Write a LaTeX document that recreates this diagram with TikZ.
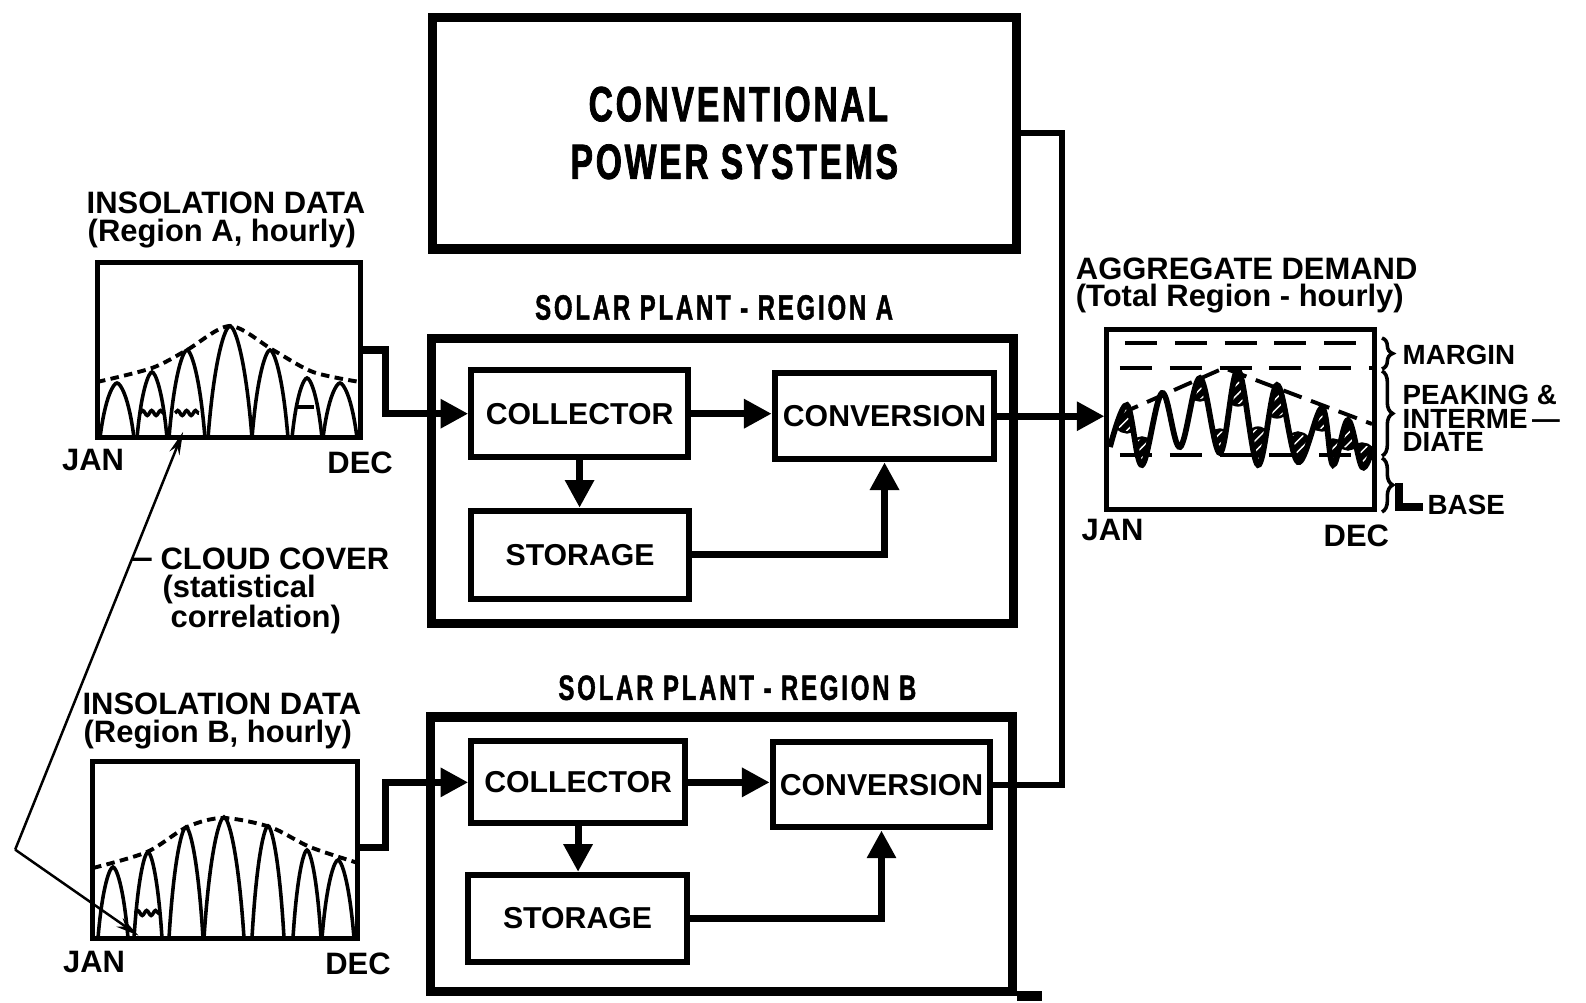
\documentclass[tikz,border=0pt]{standalone}
\usepackage{fontspec}
\setmainfont{Liberation Sans}
\newfontfamily\convfont[FakeStretch=0.68,LetterSpace=5.6,FakeBold=1.5]{Liberation Sans}
\newfontfamily\titlefont[FakeStretch=0.68,LetterSpace=8,FakeBold=1.2]{Liberation Sans}
\usetikzlibrary{arrows.meta,calc,patterns,decorations.pathreplacing,decorations.pathmorphing}

\tikzset{
  lbl/.style={font=\fontsize{8.7}{10}\selectfont\bfseries, inner sep=0pt},
  smalllbl/.style={font=\fontsize{7.8}{9}\selectfont\bfseries, inner sep=0pt, anchor=west},
  bigbox/.style={draw, line width=2.6pt, rectangle, inner sep=0pt},
  innerbox/.style={draw, line width=1.7pt, rectangle, inner sep=0pt, font=\fontsize{8.5}{10}\selectfont\bfseries},
  chartbox/.style={draw, line width=1.4pt, rectangle, inner sep=0pt},
  flow/.style={line width=2pt, -{Triangle[length=7.8pt,width=7.8pt]}},
  wire/.style={line width=1.9pt},
  humpline/.style={line width=1pt},
  env/.style={line width=1.1pt, dash pattern=on 2.4pt off 1.5pt},
  aggdash/.style={line width=1.2pt, dash pattern=on 9pt off 5pt},
  cloudarrow/.style={line width=0.7pt, -{Stealth[length=6.5pt,width=3pt]}},
  wiggle/.style={line width=1pt, decorate, decoration={snake, amplitude=0.7pt, segment length=2.5pt}},
  lobe/.style={line width=1.5pt, fill=black, postaction={pattern=north east lines, pattern color=white}},
}

\newcommand\hump[4]{%
 \draw[humpline] ({#1-#2},#4) .. controls ({#1-0.7*#2},{#4-0.75*(#4-#3)}) and ({#1-0.2*#2},#3) .. (#1,#3) .. controls ({#1+0.2*#2},#3) and ({#1+0.7*#2},{#4-0.75*(#4-#3)}) .. ({#1+#2},#4);}

\begin{document}
\begin{tikzpicture}[x=0.01cm,y=-0.01cm]
\useasboundingbox (0,0) rectangle (1568,991);

% ---------- conventional power systems ----------
\node[bigbox, minimum width=5.77cm, minimum height=2.29cm] (conv) at (716.5,131.5) {};
\node[inner sep=0pt, font=\convfont\bfseries\fontsize{13.9}{16}\selectfont] (convt1) at (730,103) {CONVENTIONAL};
\node[inner sep=0pt, font=\convfont\bfseries\fontsize{13.9}{16}\selectfont] (convt2) at (726,160) {POWER SYSTEMS};

% ---------- solar plants ----------
\node[inner sep=0pt, font=\titlefont\bfseries\fontsize{9.9}{12}\selectfont] (titA) at (706,304) {SOLAR PLANT - REGION A};
\node[inner sep=0pt, font=\titlefont\bfseries\fontsize{9.9}{12}\selectfont] (titB) at (729,680) {SOLAR PLANT - REGION B};

\node[bigbox, minimum width=5.75cm, minimum height=2.81cm] (regA) at (714.5,475.5) {};
\node[bigbox, minimum width=5.75cm, minimum height=2.71cm] (regB) at (713.5,844.5) {};
\draw[line width=2.6pt] (regB.south east) -- ++(24,0);

\node[innerbox, minimum width=2.14cm, minimum height=0.86cm] (collA) at (573,409) {COLLECTOR};
\node[innerbox, minimum width=2.17cm, minimum height=0.85cm] (convA) at (874.5,411.5) {CONVERSION};
\node[innerbox, minimum width=2.15cm, minimum height=0.87cm] (storA) at (573.5,548.5) {STORAGE};
\node[innerbox, minimum width=2.11cm, minimum height=0.81cm] (collB) at (571.5,773.5) {COLLECTOR};
\node[innerbox, minimum width=2.15cm, minimum height=0.84cm] (convB) at (871.5,776) {CONVERSION};
\node[innerbox, minimum width=2.16cm, minimum height=0.86cm] (storB) at (571,908) {STORAGE};

% ---------- charts ----------
\node[chartbox, minimum width=2.60cm, minimum height=1.73cm] (chA) at (226.5,346) {};
\node[chartbox, minimum width=2.62cm, minimum height=1.75cm] (chB) at (222.5,840) {};
\node[chartbox, minimum width=2.64cm, minimum height=1.78cm] (agg) at (1226.5,414.5) {};

% ---------- connectors ----------
\coordinate (jA) at (381,346);
\coordinate (jB) at (381,838);
\draw[flow] (chA.east) -- (jA) |- (collA.west);
\draw[flow] (chB.east |- jB) -- (jB) |- (collB.west);

\draw[flow] (collA.east) -- (collA.east -| convA.west);
\draw[flow] (collA.south) -- (collA.south |- storA.north);
\draw[flow] (storA.east) -| (convA.south);
\draw[flow] (collB.east) -- (collB.east -| convB.west);
\draw[flow] (collB.south) -- (collB.south |- storB.north);
\draw[flow] (storB.east) -| (convB.south);

\coordinate (v1) at (1050,131.5);
\coordinate (v2) at (1050,776);
\draw[wire] (conv.east) -- (v1) -- (v2) -- (convB.east);
\draw[flow] (convA.east) -- (convA.east -| agg.west);

% ---------- cloud cover ----------
\coordinate (cv) at (15,840);
\coordinate (ctA) at (181,427);
\coordinate (ctB) at (137,925);
\draw[cloudarrow] (cv) -- (ctA);
\draw[cloudarrow] (cv) -- (ctB);
\node[lbl, anchor=west] (cloud) at (158,553) {CLOUD COVER};
\node[lbl, anchor=west] (stat) at (160,583) {(statistical};
\node[lbl, anchor=west] (corr) at (168,612) {correlation)};
\draw[line width=0.9pt] ($(cv)!0.695!(ctA)$) -- ([xshift=-0.08cm]cloud.west);

% ---------- chart labels ----------
\node[lbl, anchor=west] (insA) at (85,201) {INSOLATION DATA};
\node[lbl, anchor=west] (regAl) at (86,231) {(Region A, hourly)};
\node[lbl] (janA) at (92,455) {JAN};
\node[lbl] (decA) at (356,458) {DEC};
\node[lbl, anchor=west] (insB) at (81,696) {INSOLATION DATA};
\node[lbl, anchor=west] (regBl) at (82,726) {(Region B, hourly)};
\node[lbl] (janB) at (93,951) {JAN};
\node[lbl] (decB) at (354,953) {DEC};
\node[lbl, anchor=west] (aggt) at (1063,266) {AGGREGATE DEMAND};
\node[lbl, anchor=west] (aggs) at (1063,295) {(Total Region - hourly)};
\node[lbl] (janC) at (1100,524) {JAN};
\node[lbl] (decC) at (1341,530) {DEC};

% ---------- chart internals (reference pixel coordinates) ----------
\begin{scope}[scale=0.98865]
 % chart A
 \hump{117}{17}{383}{438}
 \hump{152}{15}{372}{438}
 \hump{187}{18}{350}{438}
 \hump{230}{22}{326}{438}
 \hump{270}{18}{350}{438}
 \hump{307}{15}{378}{438}
 \hump{340}{17}{383}{438}
 \draw[wiggle] (140,413) -- (164,413);
 \draw[wiggle] (175,413) -- (199,413);
 \draw[line width=0.9pt] (296,407) -- (314,407);
 \draw[env] plot[smooth] coordinates {(97,382) (152,368) (187,350) (230,326) (273,350) (313,372) (360,382)};
 % chart B
 \hump{113}{15}{867}{938}
 \hump{148}{14}{852}{938}
 \hump{186}{17}{827}{938}
 \hump{224}{20}{817}{938}
 \hump{268}{16}{826}{938}
 \hump{307}{14}{850}{938}
 \hump{338}{16}{860}{938}
 \draw[wiggle] (135,913) -- (160,913);
 \draw[env] plot[smooth] coordinates {(93,868) (147,852) (187,827) (223,818) (270,827) (310,847) (358,863)};
 % aggregate demand
 \draw[aggdash] (1125,343) -- (1372,343);
 \draw[aggdash] (1120,368) -- (1372,368);
 \draw[aggdash] (1120,455) -- (1372,455);
 \draw[env, dash pattern=on 5.5pt off 2.8pt] (1120,414) -- (1224,368) -- (1372,424);
 \begin{scope}
  \clip plot[smooth,tension=0.6] coordinates {(1110,447) (1127,405) (1142,465) (1162,393) (1180,447) (1200,378) (1220,453) (1238,370) (1258,465) (1277,385) (1298,462) (1322,408) (1333,465) (1348,420) (1362,467) (1372,450)} -- (1373,515) -- (1108,515) -- cycle;
  \foreach \px/\py/\d in {1127/405/20, 1200/378/15, 1238/370/28, 1277/385/25, 1322/408/15, 1348/420/22}
   \draw[lobe] (\px,\py+\d/2) ellipse [x radius=13, y radius={\d/2+6}];
 \end{scope}
 \begin{scope}
  \clip plot[smooth,tension=0.6] coordinates {(1110,447) (1127,405) (1142,465) (1162,393) (1180,447) (1200,378) (1220,453) (1238,370) (1258,465) (1277,385) (1298,462) (1322,408) (1333,465) (1348,420) (1362,467) (1372,450)} -- (1373,325) -- (1108,325) -- cycle;
  \foreach \px/\py/\d in {1142/465/20, 1220/453/16, 1258/465/30, 1298/462/22, 1333/465/18, 1362/467/16}
   \draw[lobe] (\px,\py-\d/2) ellipse [x radius=13, y radius={\d/2+6}];
 \end{scope}
 \draw[line width=1.6pt] plot[smooth,tension=0.6] coordinates {(1110,447) (1127,405) (1142,465) (1162,393) (1180,447) (1200,378) (1220,453) (1238,370) (1258,465) (1277,385) (1298,462) (1322,408) (1333,465) (1348,420) (1362,467) (1372,450)};
 % braces and labels
 \draw[line width=1pt, decorate, decoration={brace, amplitude=3pt}] (1382,338) -- (1382,369);
 \draw[line width=1pt, decorate, decoration={brace, amplitude=3pt}] (1382,371) -- (1382,456);
 \draw[line width=1pt, decorate, decoration={brace, amplitude=3pt}] (1382,458) -- (1382,512);
 \draw[line width=2.2pt] (1399,483) -- (1399,507) -- (1423,507);
 \node[smalllbl] (mrg) at (1402,355) {MARGIN};
 \node[smalllbl] (pk1) at (1402,395) {PEAKING \&};
 \node[smalllbl] (pk2) at (1402,419) {INTERME\,—};
 \node[smalllbl] (pk3) at (1402,442) {DIATE};
 \node[smalllbl] (bse) at (1427,505) {BASE};
\end{scope}
\end{tikzpicture}
\end{document}
